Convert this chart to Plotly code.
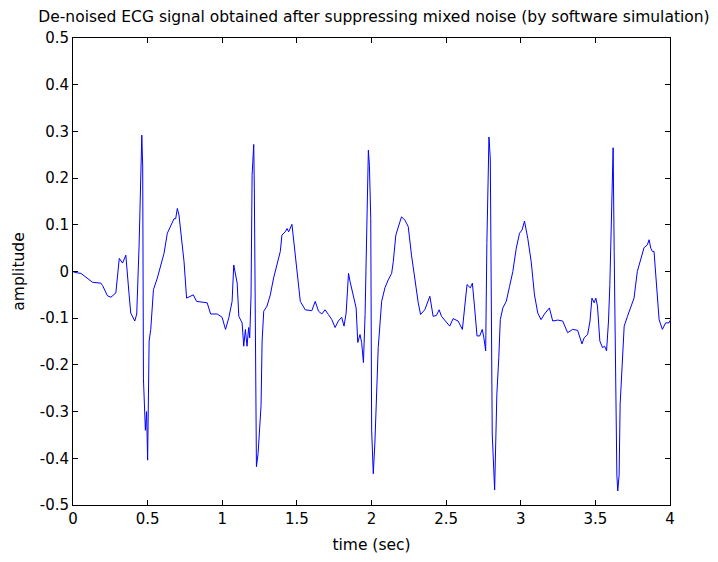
import plotly.graph_objects as go

time_sec = [0.0, 0.01, 0.053, 0.098, 0.131, 0.187, 0.198, 0.231, 0.254, 0.287, 0.31, 0.332, 0.354, 0.376, 0.387,
            0.414, 0.427, 0.443, 0.454, 0.461, 0.467, 0.472, 0.485, 0.493, 0.50, 0.503, 0.51, 0.521, 0.539, 0.565,
            0.588, 0.61, 0.632, 0.654, 0.677, 0.688, 0.699, 0.71, 0.726, 0.744, 0.761, 0.806, 0.828, 0.899, 0.922,
            0.966, 0.999, 1.022, 1.044, 1.066, 1.077, 1.093, 1.1, 1.111, 1.133, 1.144, 1.155, 1.166, 1.177, 1.184,
            1.193, 1.2, 1.211, 1.215, 1.222, 1.229, 1.24, 1.251, 1.26, 1.267, 1.278, 1.3, 1.322, 1.344, 1.367,
            1.389, 1.4, 1.422, 1.434, 1.445, 1.467, 1.473, 1.489, 1.505, 1.523, 1.556, 1.6, 1.623, 1.645, 1.667,
            1.689, 1.711, 1.734, 1.756, 1.778, 1.8, 1.816, 1.83, 1.846, 1.856, 1.879, 1.897, 1.908, 1.923, 1.934,
            1.946, 1.957, 1.968, 1.979, 1.986, 1.995, 2.001, 2.012, 2.023, 2.035, 2.045, 2.068, 2.09, 2.112, 2.135,
            2.146, 2.163, 2.19, 2.201, 2.224, 2.246, 2.268, 2.29, 2.313, 2.329, 2.357, 2.391, 2.413, 2.435, 2.453,
            2.469, 2.502, 2.524, 2.547, 2.58, 2.609, 2.624, 2.64, 2.662, 2.676, 2.691, 2.707, 2.725, 2.742, 2.753,
            2.765, 2.773, 2.787, 2.796, 2.803, 2.809, 2.825, 2.831, 2.84, 2.853, 2.863, 2.88, 2.903, 2.925, 2.947,
            2.97, 2.992, 3.009, 3.025, 3.047, 3.07, 3.092, 3.114, 3.136, 3.159, 3.192, 3.214, 3.248, 3.281, 3.314,
            3.348, 3.381, 3.41, 3.425, 3.448, 3.464, 3.477, 3.492, 3.503, 3.514, 3.53, 3.548, 3.562, 3.575, 3.588,
            3.597, 3.611, 3.619, 3.626, 3.637, 3.644, 3.65, 3.659, 3.666, 3.677, 3.693, 3.715, 3.737, 3.759, 3.781,
            3.804, 3.826, 3.848, 3.86, 3.871, 3.882, 3.893, 3.904, 3.915, 3.927, 3.949, 3.96, 3.971, 3.993, 4.0]

amplitude = [0.0, -0.002, -0.004, -0.014, -0.023, -0.025, -0.03, -0.052, -0.055, -0.046, 0.028, 0.018, 0.035, -0.05,
             -0.089, -0.106, -0.091, 0.057, 0.206, 0.292, 0.226, -0.23, -0.34, -0.3, -0.404, -0.27, -0.149, -0.124,
             -0.039, -0.014, 0.011, 0.039, 0.082, 0.099, 0.113, 0.113, 0.135, 0.121, 0.074, 0.021, -0.057, -0.05,
             -0.064, -0.067, -0.091, -0.091, -0.098, -0.124, -0.099, -0.064, 0.014, -0.011, -0.025, -0.096, -0.11,
             -0.16, -0.124, -0.16, -0.12, -0.142, -0.05, 0.206, 0.272, 0.177, -0.142, -0.418, -0.39, -0.333, -0.287,
             -0.149, -0.085, -0.074, -0.05, -0.014, 0.014, 0.043, 0.078, 0.085, 0.092, 0.085, 0.101, 0.082, 0.043,
             -0.007, -0.064, -0.082, -0.084, -0.064, -0.085, -0.091, -0.082, -0.092, -0.103, -0.12, -0.106, -0.098,
             -0.117, -0.089, -0.004, -0.021, -0.053, -0.078, -0.152, -0.135, -0.152, -0.195, -0.092, 0.057, 0.26,
             0.227, 0.113, -0.34, -0.433, -0.365, -0.262, -0.163, -0.064, -0.035, -0.018, -0.004, 0.021, 0.078,
             0.106, 0.117, 0.11, 0.096, 0.035, -0.021, -0.067, -0.092, -0.082, -0.053, -0.096, -0.094, -0.082,
             -0.096, -0.11, -0.117, -0.101, -0.106, -0.124, -0.082, -0.028, -0.035, -0.025, -0.078, -0.138, -0.138,
             -0.124, -0.142, -0.17, 0.06, 0.288, 0.241, -0.092, -0.348, -0.468, -0.355, -0.262, -0.184, -0.103,
             -0.078, -0.064, -0.032, 0.0, 0.05, 0.082, 0.089, 0.108, 0.071, 0.021, -0.05, -0.089, -0.103, -0.091,
             -0.078, -0.106, -0.104, -0.106, -0.131, -0.124, -0.126, -0.155, -0.142, -0.135, -0.106, -0.057, -0.067,
             -0.057, -0.074, -0.149, -0.163, -0.16, -0.17, -0.106, -0.028, 0.177, 0.265, 0.043, -0.305, -0.436,
             -0.47, -0.436, -0.284, -0.202, -0.117, -0.096, -0.078, -0.057, 0.0, 0.028, 0.051, 0.057, 0.068, 0.05,
             0.043, 0.043, -0.007, -0.067, -0.103, -0.124, -0.115, -0.11, -0.11, -0.105]

x_ticks = [0, 0.5, 1, 1.5, 2, 2.5, 3, 3.5, 4]
x_tick_labels = ["0", "0.5", "1", "1.5", "2", "2.5", "3", "3.5", "4"]
y_ticks = [-0.5, -0.4, -0.3, -0.2, -0.1, 0, 0.1, 0.2, 0.3, 0.4, 0.5]
y_tick_labels = ["-0.5", "-0.4", "-0.3", "-0.2", "-0.1", "0", "0.1", "0.2", "0.3", "0.4", "0.5"]

title_text = "De-noised ECG signal obtained after suppressing mixed noise (by software simulation)"

font_family = "DejaVu Sans, Liberation Sans, sans-serif"

fig = go.Figure()
fig.add_trace(go.Scatter(x=time_sec, y=amplitude, mode="lines",
                         line=dict(color="#0000FF", width=1), showlegend=False))

axis_common = dict(showgrid=False, zeroline=False, showline=True, linecolor="black", linewidth=1,
                   mirror="ticks", ticks="inside", ticklen=5, tickcolor="black", automargin=False,
                   tickfont=dict(family=font_family, size=15, color="black"))

fig.update_layout(
    width=718, height=562,
    margin=dict(l=65, r=56, t=30, b=65),
    paper_bgcolor="white", plot_bgcolor="white",
    title=dict(text=title_text, x=0.5097, xanchor="center", y=0.984, yanchor="middle",
               font=dict(family=font_family, size=15.5, color="black")),
    xaxis=dict(range=[0, 4], tickvals=x_ticks, ticktext=x_tick_labels,
               title=dict(text="time (sec)", font=dict(family=font_family, size=15.5, color="black"), standoff=12),
               **axis_common),
    yaxis=dict(range=[-0.5, 0.5], tickvals=y_ticks, ticktext=y_tick_labels,
               title=dict(text="amplitude", font=dict(family=font_family, size=15.5, color="black"), standoff=11),
               **axis_common),
)

fig.write_html("out.html")
